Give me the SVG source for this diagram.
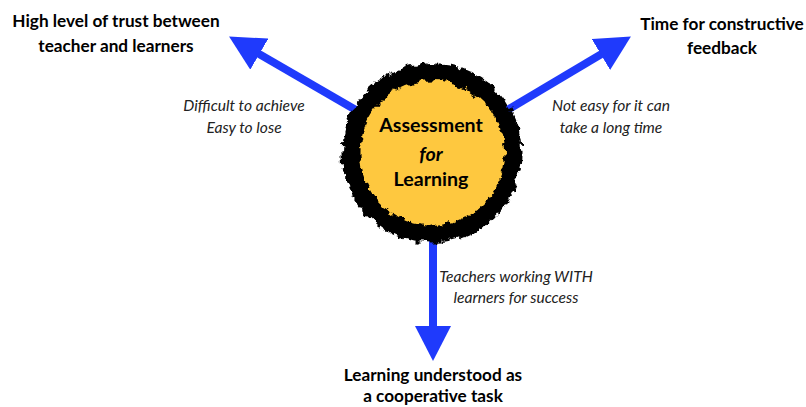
<svg xmlns="http://www.w3.org/2000/svg" width="806" height="407" viewBox="0 0 806 407">
<style>
.t{font-family:Lato,"Open Sans","Liberation Sans",sans-serif;font-weight:bold;font-size:17.2px;fill:#000;text-anchor:middle}
.c{font-family:Lato,"Open Sans","Liberation Sans",sans-serif;font-weight:bold;font-size:19.6px;fill:#000;text-anchor:middle}
.i{font-family:Lato,"Open Sans","Liberation Sans",sans-serif;font-style:italic;font-size:15.6px;fill:#222;text-anchor:middle}
.arrow{stroke:#1F3AFC;stroke-width:8;fill:none}
</style>
<defs>
<marker id="head" markerUnits="userSpaceOnUse" viewBox="0 0 36 36" markerWidth="36" markerHeight="36" refX="2" refY="18" orient="auto">
<path d="M0,0 L35,18 L0,36 z" fill="#1F3AFC"/>
</marker>
<filter id="rough" x="-20%" y="-20%" width="140%" height="140%">
<feTurbulence type="fractalNoise" baseFrequency="0.09" numOctaves="3" seed="4" result="n"/>
<feDisplacementMap in="SourceGraphic" in2="n" scale="9" xChannelSelector="R" yChannelSelector="G"/>
</filter>
</defs>
<g id="connectors">
<line class="arrow" x1="380" y1="124" x2="257.6" y2="53.1" marker-end="url(#head)"/>
<line class="arrow" x1="484" y1="124" x2="602.6" y2="53.4" marker-end="url(#head)"/>
<line class="arrow" x1="433" y1="220" x2="433" y2="328" marker-end="url(#head)"/>
<text class="i" x="244" y="111">Difficult to achieve</text>
<text class="i" x="244" y="133">Easy to lose</text>
<text class="i" x="611" y="111">Not easy for it can</text>
<text class="i" x="611" y="133">take a long time</text>
<text class="i" x="516" y="282">Teachers working WITH</text>
<text class="i" x="516" y="303">learners for success</text>
</g>
<g id="center">
<circle cx="432" cy="153" r="80" fill="#FEC83F"/>
<g filter="url(#rough)">
<circle cx="432" cy="153" r="81" fill="none" stroke="#000" stroke-width="16"/>
<circle cx="432" cy="153" r="73" fill="none" stroke="#000" stroke-width="3" stroke-dasharray="7 11 3 9 12 6"/>
<circle cx="432" cy="153" r="89" fill="none" stroke="#000" stroke-width="3" stroke-dasharray="10 6 4 12 8 5"/>
</g>
<text class="c" x="431" y="132">Assessment</text>
<text class="c" x="431" y="161" font-style="italic">for</text>
<text class="c" x="431" y="186">Learning</text>
</g>
<g id="trust">
<text class="t" x="116" y="27">High level of trust between</text>
<text class="t" x="116" y="52">teacher and learners</text>
</g>
<g id="feedback">
<text class="t" x="722" y="30">Time for constructive</text>
<text class="t" x="722" y="54">feedback</text>
</g>
<g id="cooperative">
<text class="t" x="433" y="381">Learning understood as</text>
<text class="t" x="433" y="402">a cooperative task</text>
</g>
</svg>
